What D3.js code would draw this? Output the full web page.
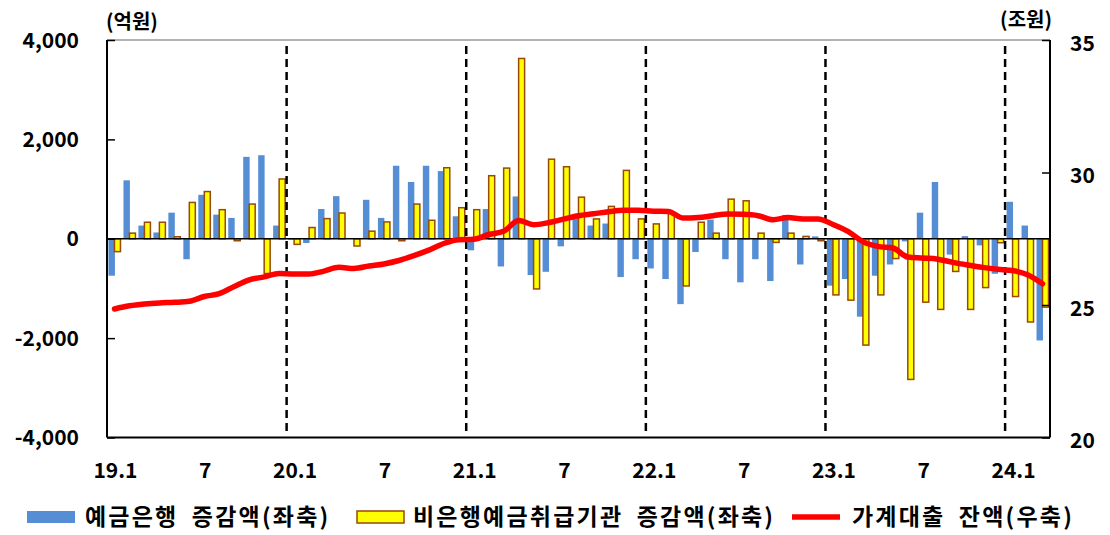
<!DOCTYPE html>
<html>
<head>
<meta charset="utf-8">
<script src="https://cdn.jsdelivr.net/npm/d3@7"></script>
<style>
  html, body { margin: 0; padding: 0; background: #fff; }
  svg { display: block; }
  text { font-family: "Noto Sans CJK KR", "Noto Sans", sans-serif; fill: #000; }
</style>
</head>
<body>
<svg id="chart" width="1110" height="535"></svg>
<script>
// ---- data ----
const months = [];
for (let y = 19; y <= 24; y++) {
  for (let m = 1; m <= 12; m++) {
    if (y === 24 && m > 3) break;
    months.push(y + "." + m);
  }
}
const bankChange = [
  -744, 1176, 266, 126, 525, -412, 884, 485, 419, 1648, 1681, 266,
  -20, -86, 598, 857, 0, 784, 419, 1469, 1143, 1469, 1362, 452,
  -233, 598, -558, 851, -731, -665, -153, 419, 266, 306, -771, -412,
  -598, -811, -1316, -266, 385, -412, -877, -412, -851, 478, -518, 47,
  -944, -811, -1568, -744, -518, -53, 525, 1143, -319, 53, -133, -704,
  744, 266, -2047
];
const nonBankChange = [
  -259, 113, 332, 332, 40, 731, 950, 585, -40, 698, -700, 1203,
  -113, 226, 405, 518, -146, 153, 339, -40, 698, 372, 1429, 625,
  585, 1269, 1422, 3628, -1010, 1601, 1449, 837, 399, 651, 1376, 399,
  299, 532, -950, 332, 113, 797, 764, 113, -73, 113, 47, -40,
  -1130, -1236, -2140, -1130, -399, -2831, -1276, -1422, -658, -1422, -983, -80,
  -1163, -1675, -1376
];
const loanBalance = [
  24.85, 24.97, 25.04, 25.08, 25.10, 25.14, 25.32, 25.43, 25.70, 25.95, 26.06, 26.19,
  26.17, 26.17, 26.28, 26.42, 26.38, 26.47, 26.55, 26.68, 26.86, 27.07, 27.32, 27.46,
  27.48, 27.66, 27.78, 28.19, 28.03, 28.11, 28.24, 28.37, 28.44, 28.52, 28.58, 28.58,
  28.54, 28.53, 28.28, 28.30, 28.37, 28.43, 28.42, 28.37, 28.22, 28.30, 28.25, 28.25,
  28.04, 27.78, 27.39, 27.21, 27.15, 26.81, 26.77, 26.73, 26.61, 26.51, 26.42, 26.35,
  26.30, 26.14, 25.80
];
const leftTicks = [-4000, -2000, 0, 2000, 4000];
const rightTicks = [20, 25, 30, 35];
const yearStarts = ["20.1", "21.1", "22.1", "23.1", "24.1"];
const xLabelFor = m => { const p = m.split("."); return p[1] === "1" ? m : (p[1] === "7" ? "7" : ""); };
const leftUnit = "(억원)";
const rightUnit = "(조원)";
const legendNames = ["예금은행 증감액(좌축)", "비은행예금취급기관 증감액(좌축)", "가계대출 잔액(우축)"];

// ---- layout ----
const L = 107, R = 1050, T = 40, B = 437.5;
const BLUE = "#558ED5", YELLOW = "#FFFF00", BROWN = "#984807", RED = "#FF0000";

const svg = d3.select("#chart");
const x = d3.scaleBand().domain(months).range([L, R]).padding(0);
const bw = x.bandwidth();
const yL = d3.scaleLinear().domain([-4000, 4000]).range([B, T]);
const yR = d3.scaleLinear().domain([20, 35]).range([B, T]);

// frame top
svg.append("line").attr("x1", L).attr("x2", R).attr("y1", T).attr("y2", T)
  .attr("stroke", "#999").attr("stroke-width", 1.5);

// bars - bank
svg.append("g").selectAll("rect").data(bankChange).join("rect")
  .attr("x", (d, i) => x(months[i]) + 0.10 * bw)
  .attr("width", 0.43 * bw)
  .attr("y", d => Math.min(yL(d), yL(0)))
  .attr("height", d => Math.abs(yL(d) - yL(0)))
  .attr("fill", BLUE);

// bars - non-bank
svg.append("g").selectAll("rect").data(nonBankChange).join("rect")
  .attr("x", (d, i) => x(months[i]) + 0.50 * bw)
  .attr("width", 0.40 * bw)
  .attr("y", d => Math.min(yL(d), yL(0)))
  .attr("height", d => Math.abs(yL(d) - yL(0)))
  .attr("fill", YELLOW).attr("stroke", BROWN).attr("stroke-width", 1.5);

// zero line
svg.append("line").attr("x1", L).attr("x2", R).attr("y1", yL(0)).attr("y2", yL(0))
  .attr("stroke", "#000").attr("stroke-width", 1.5);

// dashed year separators
svg.append("g").selectAll("line").data(yearStarts).join("line")
  .attr("x1", d => x(d)).attr("x2", d => x(d))
  .attr("y1", T + 6).attr("y2", B - 3)
  .attr("stroke", "#000").attr("stroke-width", 2.5).attr("stroke-dasharray", "8,5");

// red line
const line = d3.line()
  .x((d, i) => x(months[i]) + bw / 2)
  .y(d => yR(d))
  .curve(d3.curveMonotoneX);
svg.append("path").datum(loanBalance).attr("d", line)
  .attr("fill", "none").attr("stroke", RED).attr("stroke-width", 5.5)
  .attr("stroke-linecap", "round").attr("stroke-linejoin", "round");

// axes lines
svg.append("line").attr("x1", L).attr("x2", L).attr("y1", T).attr("y2", B).attr("stroke", "#000").attr("stroke-width", 2);
svg.append("line").attr("x1", R).attr("x2", R).attr("y1", T).attr("y2", B).attr("stroke", "#000").attr("stroke-width", 2);
svg.append("line").attr("x1", L).attr("x2", R).attr("y1", B).attr("y2", B).attr("stroke", "#000").attr("stroke-width", 2);

// left axis
const gl = svg.append("g").attr("transform", `translate(${L},0)`)
  .call(d3.axisRight(yL).tickValues(leftTicks).tickSize(8).tickFormat(""));
gl.select(".domain").remove();
gl.selectAll(".tick line").attr("stroke", "#000").attr("stroke-width", 1.5);
svg.append("g").selectAll("text").data(leftTicks).join("text")
  .attr("x", 79).attr("y", d => yL(d)).attr("dy", "0.36em")
  .attr("text-anchor", "end").attr("font-size", 21).attr("font-weight", "bold")
  .text(d => d3.format(",")(d).replace("−", "-"));

// right axis
const gr = svg.append("g").attr("transform", `translate(${R},0)`)
  .call(d3.axisLeft(yR).tickValues(rightTicks).tickSize(8).tickFormat(""));
gr.select(".domain").remove();
gr.selectAll(".tick line").attr("stroke", "#000").attr("stroke-width", 1.5);
svg.append("g").selectAll("text").data(rightTicks).join("text")
  .attr("x", 1070).attr("y", d => yR(d) + 3).attr("dy", "0.36em")
  .attr("text-anchor", "start").attr("font-size", 21).attr("font-weight", "bold")
  .text(d => d);

// x labels
svg.append("g").selectAll("text").data(months.filter(m => xLabelFor(m) !== "")).join("text")
  .attr("x", d => x(d) + bw / 2 + 1).attr("y", 470).attr("dy", "0.36em")
  .attr("text-anchor", "middle").attr("font-size", 21).attr("font-weight", "bold")
  .text(d => xLabelFor(d));

// units
svg.append("text").attr("x", 106).attr("y", 22).attr("dy", "0.36em")
  .attr("font-size", 20).attr("font-weight", "bold").text(leftUnit);
svg.append("text").attr("x", 1052).attr("y", 20).attr("dy", "0.36em").attr("text-anchor", "end")
  .attr("font-size", 20).attr("font-weight", "bold").text(rightUnit);

// legend
const ly = 517;
const lgFont = 23, lgSpace = 2.2, lgWord = 6;
const legendText = (xx, s) => svg.append("text").attr("x", xx).attr("y", ly).attr("dy", "0.36em")
  .attr("font-size", lgFont).attr("font-weight", "bold")
  .attr("letter-spacing", lgSpace).attr("word-spacing", lgWord).text(s);
svg.append("rect").attr("x", 27).attr("y", ly - 6).attr("width", 48).attr("height", 12).attr("fill", BLUE);
legendText(85, legendNames[0]);
svg.append("rect").attr("x", 357).attr("y", ly - 6).attr("width", 47).attr("height", 12)
  .attr("fill", YELLOW).attr("stroke", BROWN).attr("stroke-width", 1.5);
legendText(413, legendNames[1]);
svg.append("line").attr("x1", 792).attr("x2", 840).attr("y1", ly).attr("y2", ly).attr("stroke", RED).attr("stroke-width", 5.5);
legendText(852, legendNames[2]);
</script>
</body>
</html>
